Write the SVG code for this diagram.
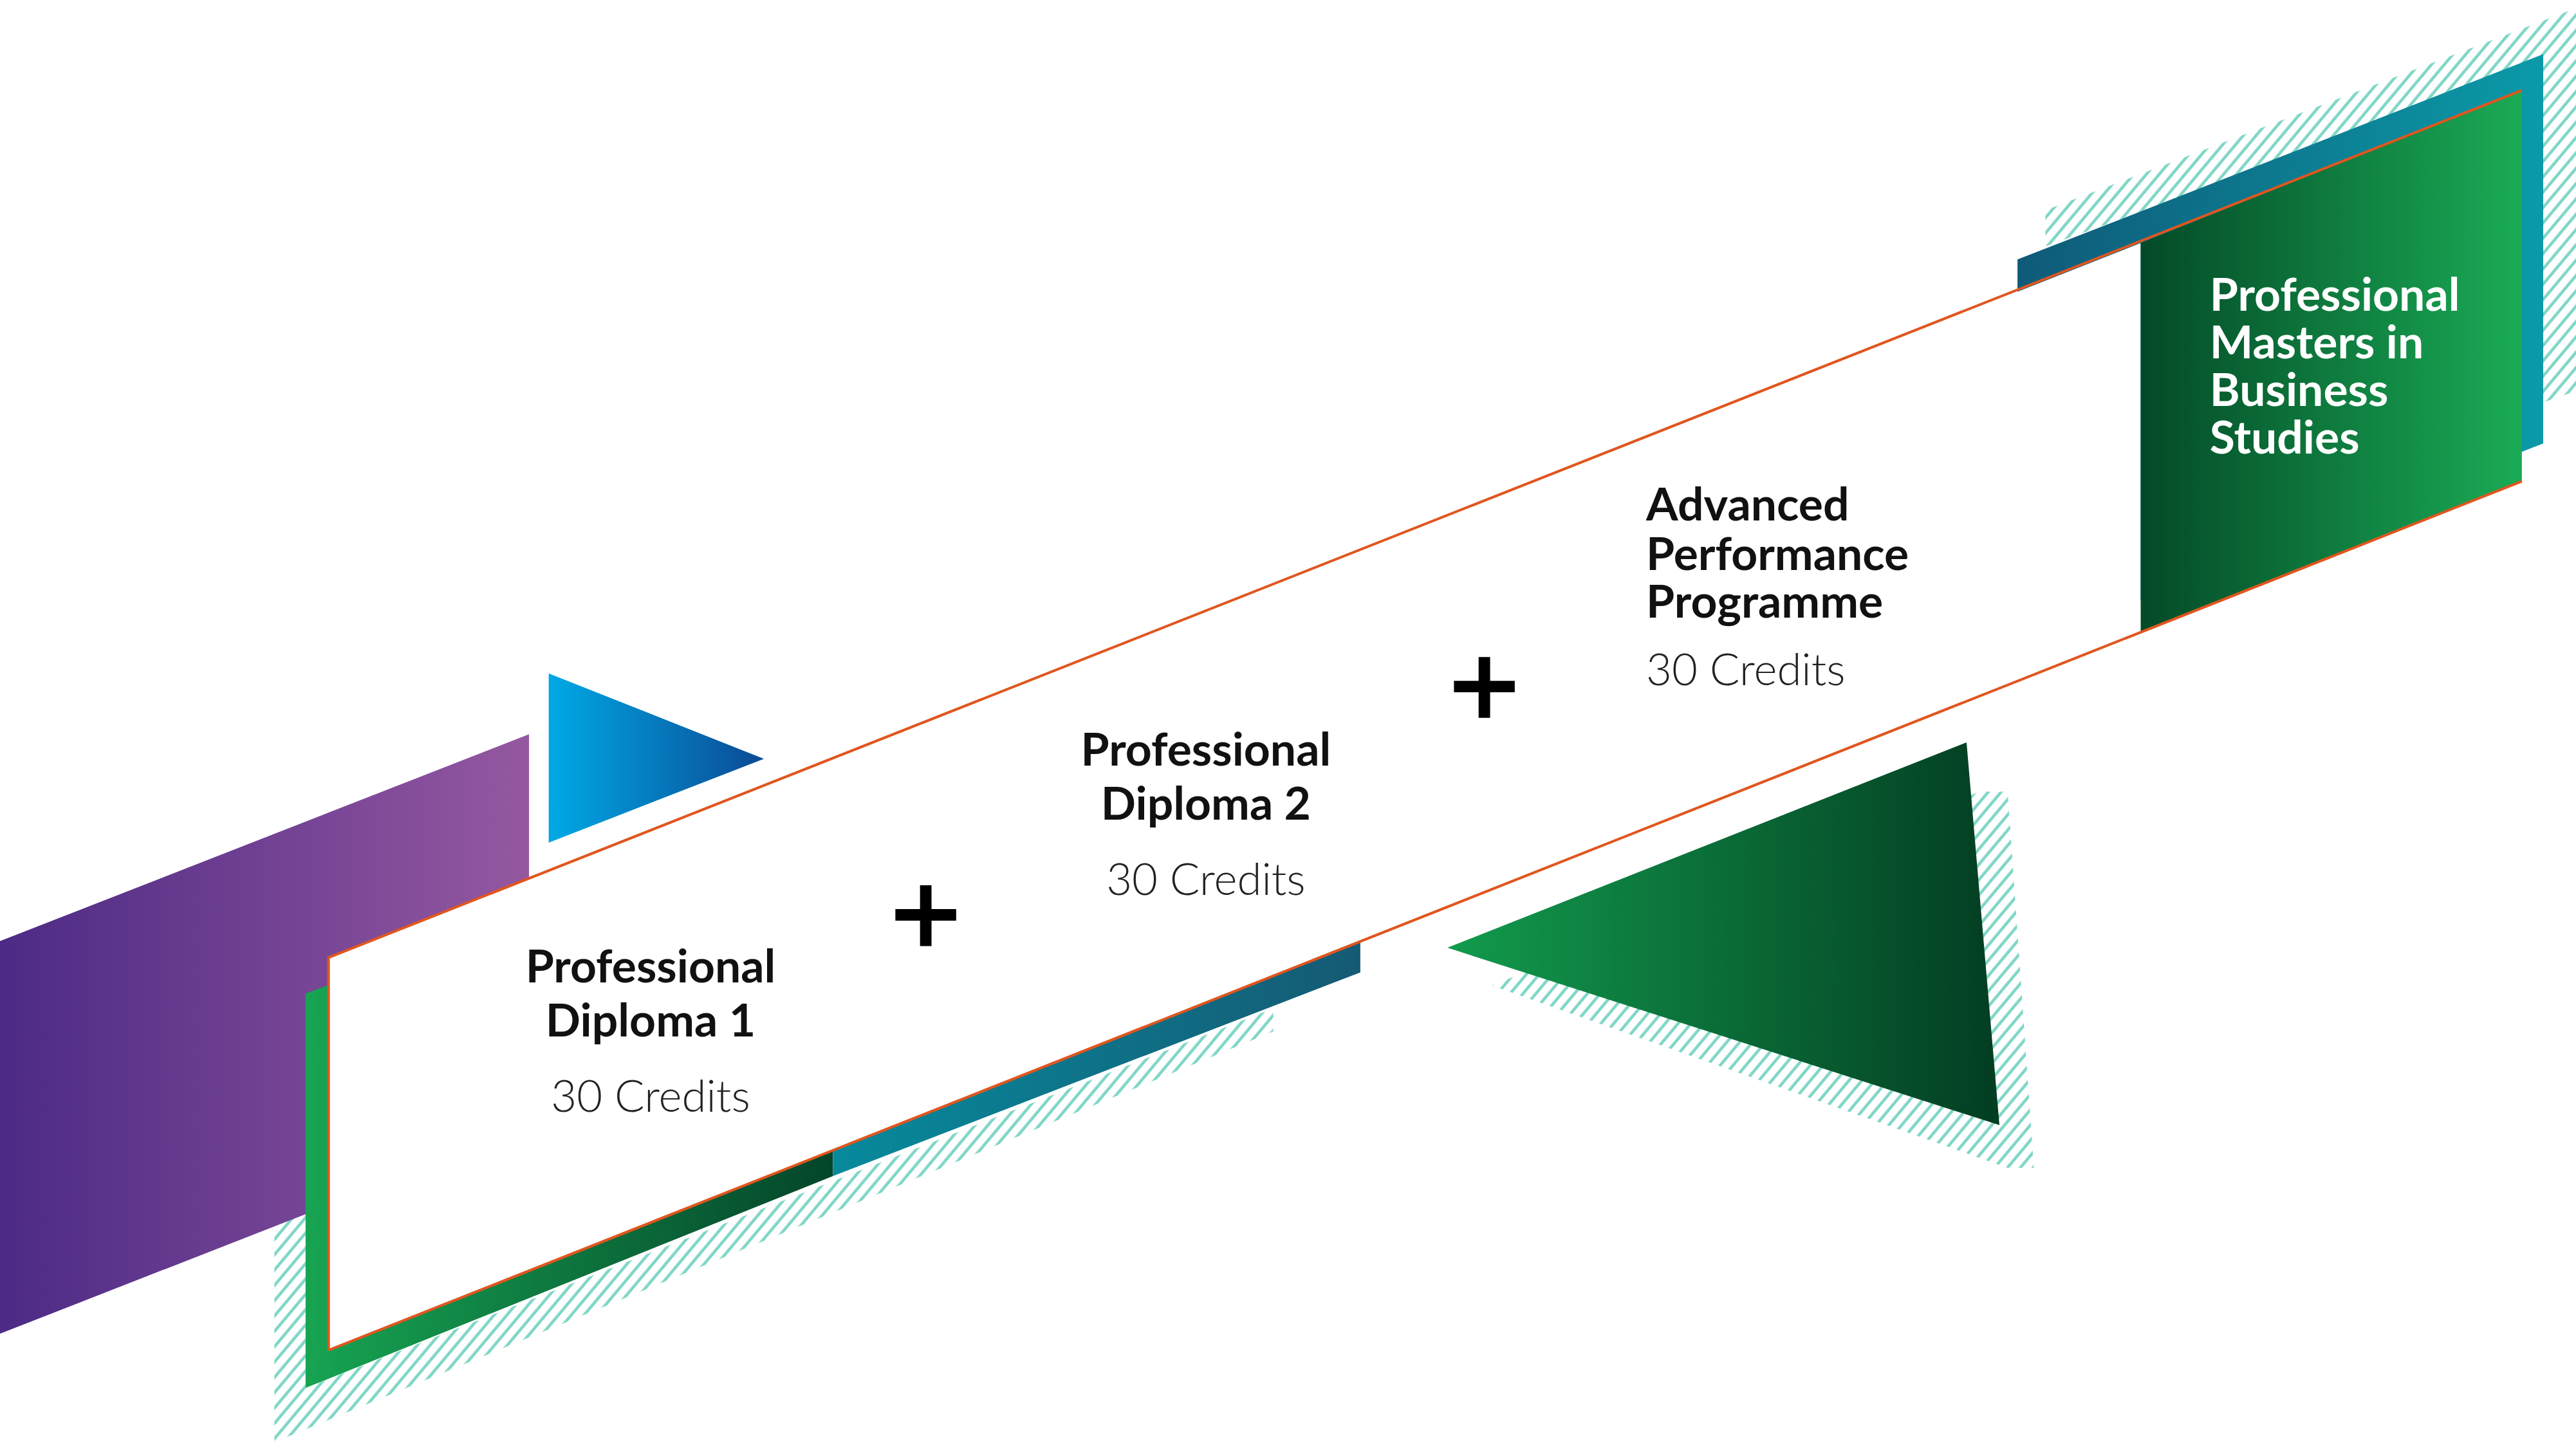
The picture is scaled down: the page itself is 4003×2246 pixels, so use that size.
<svg xmlns="http://www.w3.org/2000/svg" width="4003" height="2246" viewBox="0 0 4003 2246">
<style>
.h{font-family:Lato,"Noto Sans",sans-serif;font-weight:700;font-size:28px;fill:#111}
.c{font-family:Lato,"Noto Sans",sans-serif;font-weight:300;font-size:27px;fill:#222}
.w{font-family:Lato,"Noto Sans",sans-serif;font-weight:700;font-size:28px;fill:#fff}
.hat{fill:url(#hatch)}
</style>
<defs>
<pattern id="hatch" patternUnits="userSpaceOnUse" width="6" height="6" patternTransform="rotate(40)">
<line x1="1" y1="0" x2="1" y2="6" stroke="#7fd6c6" stroke-width="1.8"/>
</pattern>
<linearGradient id="purple" x1="0" x2="1" y1="0" y2="0"><stop offset="0" stop-color="#4c2a85"/><stop offset="1" stop-color="#9558a0"/></linearGradient>
<linearGradient id="blue" x1="0" x2="1"><stop offset="0" stop-color="#00a9e6"/><stop offset="1" stop-color="#0b4a94"/></linearGradient>
<linearGradient id="gbig" x1="0" x2="1"><stop offset="0" stop-color="#129b4d"/><stop offset="1" stop-color="#033d22"/></linearGradient>
<linearGradient id="gbox" x1="0" x2="1"><stop offset="0" stop-color="#034a27"/><stop offset="1" stop-color="#1aab55"/></linearGradient>
<linearGradient id="gstrip" x1="0" x2="1"><stop offset="0" stop-color="#17a452"/><stop offset="1" stop-color="#04452a"/></linearGradient>
<linearGradient id="teal" x1="0" x2="1"><stop offset="0" stop-color="#0f5a78"/><stop offset="1" stop-color="#0b9aa8"/></linearGradient>
<linearGradient id="teal2" x1="0" x2="1"><stop offset="0" stop-color="#078a9c"/><stop offset="1" stop-color="#155a74"/></linearGradient>
<linearGradient id="gsmall" x1="0" x2="1"><stop offset="0" stop-color="#1aa852"/><stop offset="1" stop-color="#047a3c"/></linearGradient>
</defs>
<g transform="scale(2.553)">
<g id="hatching">
<polygon class="hat" points="167,640 186,633 186,845 775,614 775,628 167,878"/>
<polygon class="hat" points="908,600 1205,482 1222,482 1238,711 1222,711"/>
<polygon class="hat" points="1245,128 1568,5 1568,238 1548,245 1548,40 1245,150"/>
</g>
<g id="shapes">
<polygon id="purple-band" points="0,573 322,447 322,686 0,812" fill="url(#purple)"/>
<polygon id="teal-top" points="1228,158 1548,33 1548,270 1228,395" fill="url(#teal)"/>
<polygon id="green-frame" points="186,605 507,480 507,716 186,845" fill="url(#gstrip)"/>
<polygon id="teal-strip" points="507,480 828,355 828,592 507,716" fill="url(#teal2)"/>
<polygon id="blue-tri" points="334,410 465,462 334,513" fill="url(#blue)"/>
<polygon id="big-tri" points="881,577 1197,452 1217,685" fill="url(#gbig)"/>
<polygon id="small-tri" points="1223,280 1277,258 1223,327" fill="url(#gsmall)"/>
</g>
<g id="band">
<polygon points="200,583 1303,148 1303,385 200,822" fill="#fff"/>
<polygon id="masters-box" points="1303,148 1535,55 1535,293 1303,385" fill="url(#gbox)"/>
</g>
<g id="connectors" stroke="#e0561e" stroke-width="1.6" fill="none">
<polyline points="200,822 200,583 1535,55"/>
<line x1="200" y1="822" x2="1535" y2="293"/>
</g>
<g id="pd1"><text class="h" x="396" y="598" text-anchor="middle">Professional</text><text class="h" x="396" y="631" text-anchor="middle">Diploma 1</text><text class="c" x="396" y="677" text-anchor="middle">30 Credits</text></g>
<g id="plus1"><path d="M545,557h37M563.5,539v37" stroke="#000" stroke-width="7"/></g>
<g id="pd2"><text class="h" x="734" y="466" text-anchor="middle">Professional</text><text class="h" x="734" y="499" text-anchor="middle">Diploma 2</text><text class="c" x="734" y="545" text-anchor="middle">30 Credits</text></g>
<g id="plus2"><path d="M885,418h37M903.5,400v37" stroke="#000" stroke-width="7"/></g>
<g id="app"><text class="h" x="1002" y="317">Advanced</text><text class="h" x="1002" y="347">Performance</text><text class="h" x="1002" y="376">Programme</text><text class="c" x="1002" y="417">30 Credits</text></g>
<g id="masters"><text class="w" x="1345" y="189">Professional</text><text class="w" x="1345" y="218">Masters in</text><text class="w" x="1345" y="247">Business</text><text class="w" x="1345" y="276">Studies</text></g>
</g>
</svg>
